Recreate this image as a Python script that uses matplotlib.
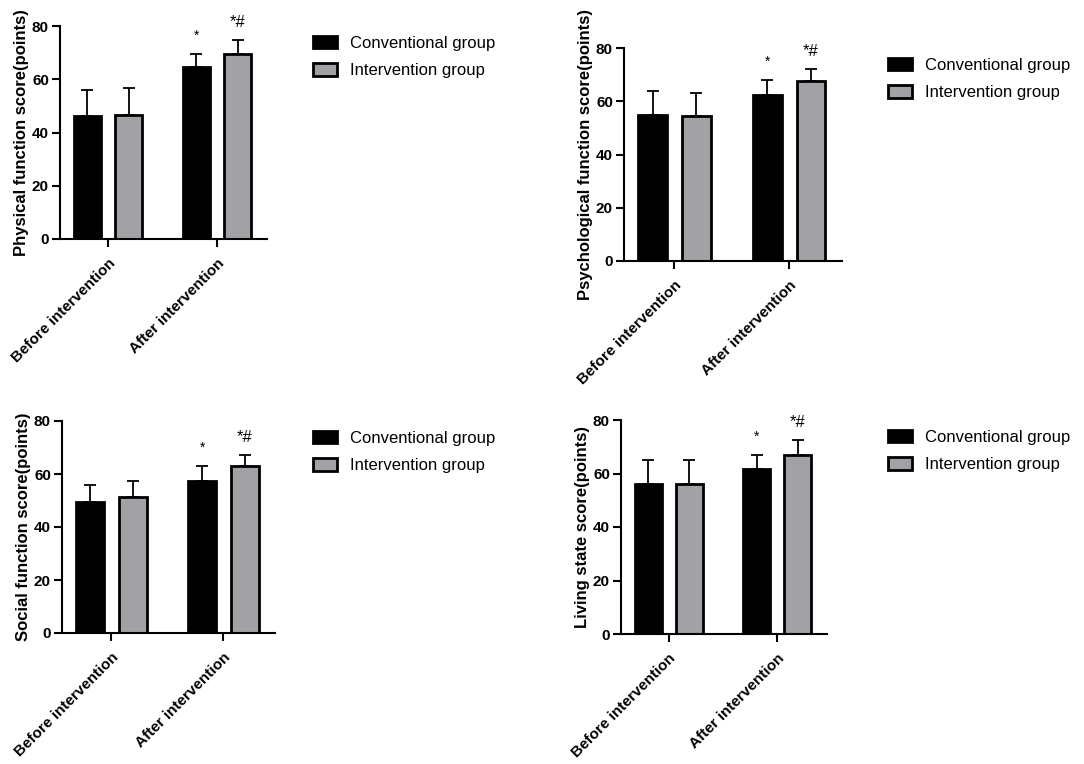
import matplotlib
matplotlib.use("Agg")
import matplotlib.pyplot as plt
import numpy as np

plt.rcParams['font.family'] = ['Liberation Sans', 'DejaVu Sans']

categories = ["Before intervention", "After intervention"]
groups = ["Conventional group", "Intervention group"]

# mean / upper error bar end
physical_conv = [46.2, 64.6]
physical_conv_err = [9.8, 4.9]
physical_int = [46.7, 69.5]
physical_int_err = [10.0, 5.2]

psych_conv = [54.8, 62.3]
psych_conv_err = [9.0, 5.7]
psych_int = [54.5, 67.6]
psych_int_err = [8.6, 4.5]

social_conv = [49.4, 57.4]
social_conv_err = [6.4, 5.6]
social_int = [51.3, 63.0]
social_int_err = [6.1, 4.2]

living_conv = [56.1, 61.7]
living_conv_err = [8.9, 5.2]
living_int = [56.1, 66.9]
living_int_err = [8.9, 5.6]

panels = [
    ("Physical function score(points)", physical_conv, physical_conv_err, physical_int, physical_int_err),
    ("Psychological function score(points)", psych_conv, psych_conv_err, psych_int, psych_int_err),
    ("Social function score(points)", social_conv, social_conv_err, social_int, social_int_err),
    ("Living state score(points)", living_conv, living_conv_err, living_int, living_int_err),
]

# axes boxes in pixels: left, right, bottom, top
boxes = [(60, 267, 239, 26), (624, 842, 261, 48), (62, 275, 633, 421), (621, 827, 634, 420)]

W, H = 1084, 764
fig = plt.figure(figsize=(W / 100, H / 100), dpi=100)

gray = "#a2a2a6"
x = np.arange(len(categories))
bw = 0.25
off = 0.19

for (label, conv, conv_err, inter, inter_err), (l, r, b, t) in zip(panels, boxes):
    ax = fig.add_axes([l / W, 1 - b / H, (r - l) / W, (b - t) / H])
    ax.bar(x - off, conv, bw, color="black", edgecolor="black", linewidth=2,
           yerr=[np.zeros(2), conv_err], capsize=4.5,
           error_kw=dict(elinewidth=1.3, capthick=1.3, ecolor="black"),
           label=groups[0], zorder=2)
    ax.bar(x + off, inter, bw, color=gray, edgecolor="black", linewidth=2,
           yerr=[np.zeros(2), inter_err], capsize=4.5,
           error_kw=dict(elinewidth=1.3, capthick=1.3, ecolor="black"),
           label=groups[1], zorder=2)

    ax.annotate("*", (x[1] - off, conv[1] + conv_err[1]), xytext=(0, 8),
                textcoords="offset points", ha="center", va="bottom", fontsize=10)
    ax.annotate("*#", (x[1] + off, inter[1] + inter_err[1]), xytext=(0, 7),
                textcoords="offset points", ha="center", va="bottom", fontsize=12)

    ax.set_xlim(-0.44, 1.46)
    ax.set_ylim(0, 80)
    ax.set_yticks([0, 20, 40, 60, 80])
    ax.set_xticks(x)
    ax.set_xticklabels(categories, rotation=45, ha="right", rotation_mode="anchor",
                       fontsize=11, fontweight="bold")
    for tl in ax.get_yticklabels():
        tl.set_fontweight("bold")
        tl.set_fontsize(11)
    ax.set_ylabel(label, fontsize=12, fontweight="bold", labelpad=2)
    ax.spines["top"].set_visible(False)
    ax.spines["right"].set_visible(False)
    ax.spines["left"].set_linewidth(1.5)
    ax.spines["bottom"].set_linewidth(1.5)
    ax.tick_params(axis="both", width=1.5, length=6, pad=2)
    ax.tick_params(axis="x", pad=6)

    leg_x = (888 - l) / (r - l) if l > 500 else (313 - l) / (r - l)
    ax.legend(loc="upper left", bbox_to_anchor=(leg_x, 0.955), frameon=False,
              fontsize=12, handlelength=1.45, handleheight=0.8,
              handletextpad=0.75, labelspacing=0.75, borderaxespad=0, borderpad=0)

fig.savefig("out.png", dpi=100)
